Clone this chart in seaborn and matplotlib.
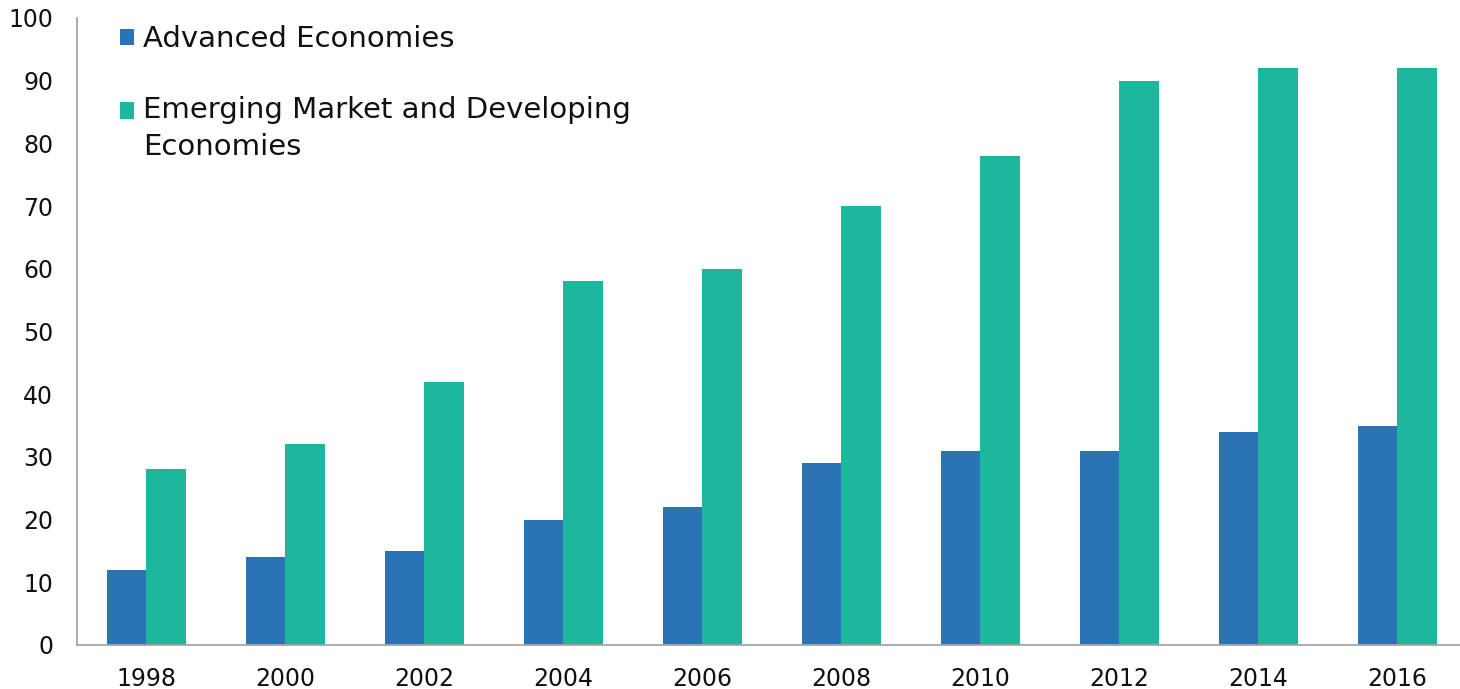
import matplotlib.pyplot as plt
import seaborn as sns
import pandas as pd
from matplotlib.legend_handler import HandlerPatch
from matplotlib.patches import Rectangle

years = ['1998', '2000', '2002', '2004', '2006', '2008', '2010', '2012', '2014', '2016']
advanced = [12, 14, 15, 20, 22, 29, 31, 31, 34, 35]
emerging = [28, 32, 42, 58, 60, 70, 78, 90, 92, 92]
series_names = ['Advanced Economies', 'Emerging Market and Developing\nEconomies']
colors = ['#2A73B5', '#1DB79E']

df = pd.DataFrame({
    'year': years * 2,
    'value': advanced + emerging,
    'group': [series_names[0]] * len(years) + [series_names[1]] * len(years),
})


class ShiftedPatch(HandlerPatch):
    # square marker moved up so it sits beside the first line of a two-line label
    def __init__(self, dy=0, **kw):
        super().__init__(**kw)
        self.dy = dy

    def create_artists(self, legend, orig_handle, xdescent, ydescent,
                       width, height, fontsize, trans):
        p = Rectangle((-xdescent, -ydescent + self.dy), width, height)
        self.update_prop(p, orig_handle, legend)
        p.set_transform(trans)
        return [p]


sns.set_style('white')
plt.rcParams['font.family'] = ['DejaVu Sans']

fig = plt.figure(figsize=(14.6, 6.89), dpi=100)
ax = fig.add_axes([0.0527, 0.0639, 0.9473, 0.9100])

sns.barplot(data=df, x='year', y='value', hue='group', palette=colors,
            width=0.57, saturation=1, linewidth=0, ax=ax)

ax.set_ylim(0, 100)
ax.set_xlim(-0.5, 9.45)
ax.set_yticks(range(0, 101, 10))
ax.set_xlabel('')
ax.set_ylabel('')
ax.tick_params(axis='both', length=0, labelsize=17, colors='#111111')
ax.tick_params(axis='y', pad=17)
ax.tick_params(axis='x', pad=16)

for side in ['top', 'right']:
    ax.spines[side].set_visible(False)
for side in ['left', 'bottom']:
    ax.spines[side].set_color('#A6A6A6')
    ax.spines[side].set_linewidth(1.3)

handles, labels = ax.get_legend_handles_labels()
leg = ax.legend(handles, labels, loc='upper left', bbox_to_anchor=(0.012, 1.03),
                frameon=False, fontsize=21, handlelength=0.5, handleheight=0.5,
                handletextpad=0.3, labelspacing=1.45,
                handler_map={handles[0]: ShiftedPatch(0),
                             handles[1]: ShiftedPatch(13.3)})
for t in leg.get_texts():
    t.set_color('#111111')
    t.set_linespacing(1.4)

fig.savefig('out.png', dpi=100)
